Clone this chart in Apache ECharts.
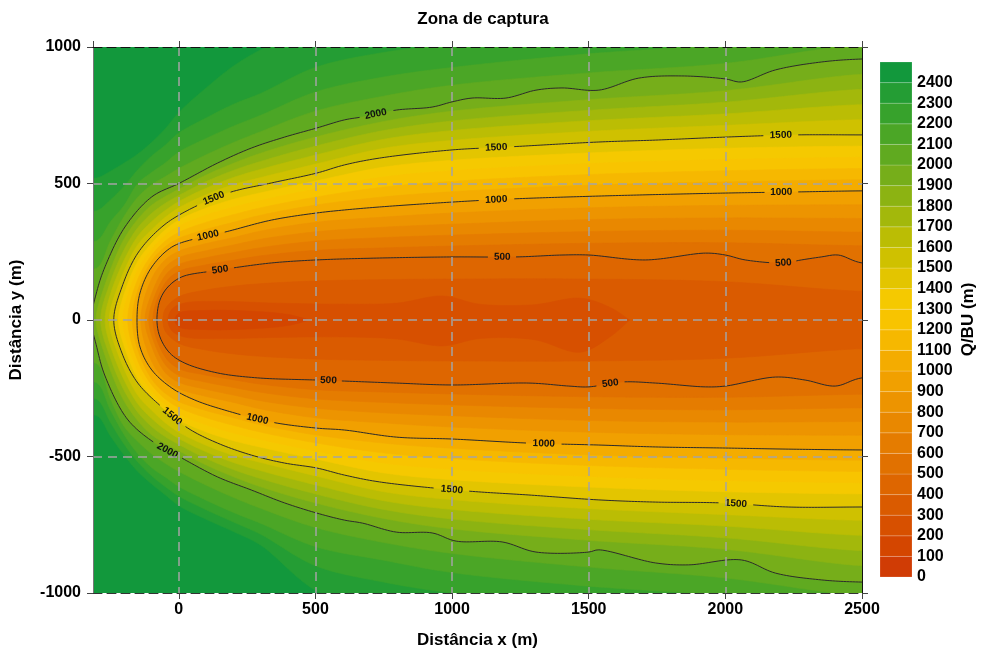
<!DOCTYPE html>
<html><head><meta charset="utf-8">
<script src="https://cdn.jsdelivr.net/npm/echarts@6.0.0/dist/echarts.min.js"></script>
<style>html,body{margin:0;padding:0;background:#fff}#c{width:982px;height:656px}</style>
</head><body><div id="c"></div>
<script>
const FONT = '"Liberation Sans", Arial, Helvetica, sans-serif';
const X_MIN = -314, X_MAX = 2500, Y_MIN = -1000, Y_MAX = 1000;

// ---- colour bar (band lower bounds, tick labels) ----
const cbLevels = [0,100,200,300,400,500,600,700,800,900,1000,1100,1200,1300,1400,1500,1600,1700,1800,1900,2000,2100,2200,2300,2400];
const bandColors = ['#d03c05','#d44600','#d75000','#da5b00','#de6600','#e17100','#e57c00','#e98800','#ed9400','#f1a000','#f4ac00','#f6b800','#f8c400','#f5c900','#e3c500','#cfc100','#bbbd04','#a3b80b','#8cb312','#76ae1a','#60aa20','#4ba626','#37a22c','#249d34','#12983c'];

// ---- filled field: upper-half contour y (m) at the x stations, per level ----
const XS = [-300,-250,-200,-150,-100,-50,0,100,200,300,500,750,1000,1500,2000,2500];
const fillLevels = [2400,2300,2200,2100,1900,1800,1700,1600,1400,1300,1200,1100,900,800,700,600,400];
const fillNoses  = [null,null,null,null,-302,-286,-270,-254,-221,-204,-187,-170,-139,-124,-110,-95,-58];
const up2400 = [520,545,575,608,650,700,760,850,930,990,1080,1120,1150,1200,1250,1300];
const lo2400 = [-350,-425,-495,-555,-600,-640,-680,-730,-775,-825,-990,-1080,-1150,-1200,-1250,-1300];
const up2300 = [400,440,490,550,600,640,685,740,790,830,925,980,1010,1060,1100,1150];
const lo2300 = [-290,-375,-455,-520,-570,-610,-645,-695,-740,-785,-900,-960,-1000,-1050,-1095,-1140];
const up2200 = [290,360,420,500,540,575,615,665,710,750,835,890,925,975,1010,1070];
const lo2200 = [-230,-330,-420,-490,-540,-575,-610,-660,-705,-745,-830,-880,-925,-975,-1010,-1070];
const up2100 = [190,290,380,450,495,525,555,605,650,690,765,820,860,905,940,1010];
const lo2100 = [-160,-290,-390,-445,-490,-525,-555,-605,-650,-690,-760,-815,-855,-905,-945,-1010];
const up1900 = [30,185,297,369,420,452,479,531,574,611,670,727,765,807,840,900];
const up1800 = [null,140,258,338,390,427,456,507,548,581,637,694,729,768,798,845];
const up1700 = [null,95,220,307,360,401,434,483,522,552,604,662,694,730,755,789];
const up1600 = [null,40,180,276,330,376,411,459,496,522,571,629,658,691,713,734];
const up1400 = [null,null,95,215,280,330,366,410,442,466,509,560,585,612,629,637];
const up1300 = [null,null,45,185,258,310,344,384,414,438,480,524,547,573,588,596];
const up1200 = [null,null,null,150,237,289,321,358,386,411,450,487,508,533,547,555];
const up1100 = [null,null,null,110,215,268,299,332,358,384,421,451,470,494,506,514];
const up900  = [null,null,null,null,150,220,252,280,302,326,358,377,392,411,420,422];
const up800  = [null,null,null,null,95,192,228,254,275,296,323,340,351,368,374,372];
const up700  = [null,null,null,null,55,163,203,228,247,265,289,302,311,324,329,322];
const up600  = [null,null,null,null,null,135,178,202,219,235,255,264,271,281,283,272];
const up400  = [null,null,null,null,null,40,85,110,124,133,143,148,150,150,140,105];

// ---- inner low zones near the centre line [x, y] ----
const c300U = [[-40,0],[-25,40],[20,62],[150,68],[350,62],[600,58],[800,62],[965,88],[1100,58],[1300,56],[1470,80],[1580,45],[1650,0]];
const c300L = [[-40,0],[-25,-40],[20,-62],[150,-68],[350,-64],[600,-62],[800,-70],[965,-95],[1100,-68],[1300,-72],[1470,-118],[1580,-60],[1650,0]];
const c200U = [[-15,0],[0,25],[100,35],[250,33],[400,20],[480,0]];
const c200L = [[-15,0],[0,-25],[100,-35],[250,-33],[400,-20],[480,0]];

// ---- labelled contour lines [x, y] ----
const c500U = [[-80,0],[-69,73],[-40,121],[11,158],[120,179],[193,190],[339,209],[504,220],[734,227],[1000,231],[1234,231],[1402,238],[1500,238],[1708,220],[1927,245],[2000,238],[2073,220],[2212,209],[2278,220],[2351,231],[2413,238],[2500,209]];
const c500L = [[-80,0],[-69,-62],[-33,-121],[22,-158],[142,-194],[288,-212],[507,-220],[588,-223],[796,-231],[1000,-238],[1281,-231],[1427,-242],[1500,-245],[1621,-227],[1745,-231],[1927,-245],[2000,-242],[2183,-209],[2292,-220],[2402,-242],[2500,-212]];
const c1000U = [[-153,0],[-142,99],[-99,194],[-26,267],[69,300],[168,322],[339,366],[504,392],[606,403],[734,414],[1000,432],[1208,443],[1537,454],[2000,465],[2256,469],[2500,473]];
const c1000L = [[-153,0],[-142,-99],[-99,-183],[-26,-249],[58,-293],[168,-330],[339,-374],[504,-396],[606,-403],[796,-429],[1000,-436],[1281,-451],[1537,-458],[1745,-465],[2000,-469],[2230,-473],[2500,-476]];
const c1500U = [[-238,0],[-208,121],[-150,245],[-62,341],[22,396],[179,465],[339,502],[504,538],[606,568],[734,593],[1000,623],[1208,634],[1537,652],[1745,659],[2000,670],[2256,678],[2500,678]];
const c1500L = [[-238,0],[-208,-121],[-150,-231],[-62,-319],[33,-396],[142,-451],[266,-495],[387,-524],[504,-542],[606,-568],[734,-593],[1051,-626],[1281,-641],[1537,-659],[1745,-667],[1986,-670],[2230,-685],[2500,-685]];
const c2000U = [[-320,0],[-300,105],[-270,195],[-197,341],[-99,451],[4,502],[142,575],[266,630],[387,670],[504,703],[606,733],[672,744],[796,769],[927,780],[1000,799],[1073,813],[1197,813],[1307,842],[1402,850],[1537,842],[1683,886],[1840,894],[2000,883],[2059,872],[2183,916],[2351,945],[2500,956]];
const c2000L = [[-320,0],[-300,-100],[-270,-205],[-186,-366],[-77,-458],[4,-502],[142,-575],[266,-623],[387,-670],[504,-707],[606,-733],[672,-744],[796,-777],[927,-780],[1015,-810],[1183,-813],[1307,-850],[1500,-850],[1537,-842],[1745,-890],[1865,-897],[2059,-879],[2183,-927],[2351,-952],[2500,-960]];
const lab500  = [[150,183],[1179,231],[2212,209],[544,-221],[1577,-235]];
const lab1000 = [[110,309],[1157,440],[2201,468],[285,-360],[1332,-452]];
const lab1500 = [[128,443],[1157,631],[2201,676],[-22,-352],[996,-621],[2040,-671]];
const lab2000 = [[719,752],[-44,-476]];

// ---------- build helpers ----------
const upRows = [up2400,up2300,up2200,up2100,up1900,up1800,up1700,up1600,up1400,up1300,up1200,up1100,up900,up800,up700,up600,up400];
const loRows = [lo2400,lo2300,lo2200,lo2100,null,null,null,null,null,null,null,null,null,null,null,null,null];
const X_EXT_R = 2800, X_EXT_L = -380;

function rowPts(row, nose){
  const pts = [];
  if (nose !== null) pts.push([nose, 0]); else pts.push([X_EXT_L, row[0]]);
  XS.forEach((x,i)=>{ if (row[i] !== null) pts.push([x,row[i]]); });
  return pts;
}
function openPath(U, L){
  const u = U.slice(), l = L.slice();
  if (u[u.length-1][1] !== 0) u.push([X_EXT_R, u[u.length-1][1]]);
  if (l[l.length-1][1] !== 0) l.push([X_EXT_R, l[l.length-1][1]]);
  const same = u[0][0] === l[0][0] && u[0][1] === l[0][1];
  return u.reverse().concat(same ? l.slice(1) : l);
}
function catmull(P){
  const n = P.length; if (n < 3) return P.slice();
  const get = i => {
    if (i < 0) return [2*P[0][0]-P[1][0], 2*P[0][1]-P[1][1]];
    if (i >= n) return [2*P[n-1][0]-P[n-2][0], 2*P[n-1][1]-P[n-2][1]];
    return P[i];
  };
  const dd = (a,b) => Math.max(Math.pow(Math.hypot(b[0]-a[0], b[1]-a[1]), 0.5), 1e-4);
  const out = [];
  for (let i = 0; i < n-1; i++){
    const p0=get(i-1), p1=P[i], p2=P[i+1], p3=get(i+2);
    const t0=0, t1=t0+dd(p0,p1), t2=t1+dd(p1,p2), t3=t2+dd(p2,p3);
    const segs = Math.max(1, Math.ceil(Math.hypot(p2[0]-p1[0], p2[1]-p1[1]) / 3));
    for (let s = 0; s < segs; s++){
      const t = t1 + (t2-t1)*s/segs;
      const lp = (a,b,ta,tb) => { const w=(t-ta)/(tb-ta); return [a[0]+(b[0]-a[0])*w, a[1]+(b[1]-a[1])*w]; };
      const A1=lp(p0,p1,t0,t1), A2=lp(p1,p2,t1,t2), A3=lp(p2,p3,t2,t3);
      const B1=lp(A1,A2,t0,t2), B2=lp(A2,A3,t1,t3);
      out.push(lp(B1,B2,t1,t2));
    }
  }
  out.push(P[n-1]);
  return out;
}

const shapes = [];
fillLevels.forEach((lv,i)=>{
  const U = rowPts(upRows[i], fillNoses[i]);
  const L = loRows[i] ? rowPts(loRows[i], fillNoses[i]) : U.map(p=>[p[0], -p[1]]);
  shapes.push({lv, U, L});
});
const lines = [
  {lv:500, U:c500U, L:c500L, labs:lab500},
  {lv:1000, U:c1000U, L:c1000L, labs:lab1000},
  {lv:1500, U:c1500U, L:c1500L, labs:lab1500},
  {lv:2000, U:c2000U, L:c2000L, labs:lab2000}
];
lines.forEach(c=>shapes.push({lv:c.lv, U:c.U, L:c.L}));
shapes.push({lv:300, U:c300U, L:c300L});
shapes.push({lv:200, U:c200U, L:c200L});
shapes.sort((a,b)=>b.lv-a.lv);

function renderField(params, api){
  const cs = params.coordSys;
  const toPx = pts => pts.map(p => api.coord(p));
  const children = [];
  shapes.forEach(s=>{
    const col = bandColors[s.lv/100 - 1];
    children.push({type:'polygon', shape:{points: catmull(toPx(openPath(s.U, s.L)))},
      style:{fill: col, stroke: col, lineWidth: 0.6}, silent:true});
  });
  lines.forEach(c=>{
    const pts = catmull(toPx(openPath(c.U, c.L)));
    const keep = pts.map(()=>true);
    const txt = String(c.lv);
    const half = txt.length*2.9 + 4;
    c.labs.forEach(lp=>{
      const q = api.coord(lp);
      let best=0, bd=1e9;
      pts.forEach((p,i)=>{ const d=Math.hypot(p[0]-q[0],p[1]-q[1]); if(d<bd){bd=d;best=i;} });
      const ctr = pts[best];
      let i0 = best, i1 = best;
      while (i0>0 && Math.hypot(pts[i0][0]-ctr[0],pts[i0][1]-ctr[1]) < half) i0--;
      while (i1<pts.length-1 && Math.hypot(pts[i1][0]-ctr[0],pts[i1][1]-ctr[1]) < half) i1++;
      let ang = Math.atan2(pts[i1][1]-pts[i0][1], pts[i1][0]-pts[i0][0]);
      if (ang > Math.PI/2) ang -= Math.PI;
      if (ang < -Math.PI/2) ang += Math.PI;
      for (let k=i0+1;k<i1;k++) keep[k]=false;
      children.push({type:'text', x:ctr[0], y:ctr[1], rotation:-ang, silent:true, z2:20,
        style:{text:txt, fill:'#111', font:'bold 10px ' + FONT, align:'center', verticalAlign:'middle'}});
    });
    let run = [];
    pts.forEach((p,i)=>{
      if (keep[i]) run.push(p);
      else { if (run.length>1) children.push({type:'polyline', shape:{points:run}, style:{stroke:'#2b2b2b', lineWidth:1, fill:null}, silent:true, z2:10}); run=[]; }
    });
    if (run.length>1) children.push({type:'polyline', shape:{points:run}, style:{stroke:'#2b2b2b', lineWidth:1, fill:null}, silent:true, z2:10});
  });
  return {type:'group', children,
    clipPath:{type:'rect', shape:{x:cs.x, y:cs.y, width:cs.width, height:cs.height}}};
}

function renderBar(params, api){
  const lo = api.value(1);
  const a = api.coord([0, lo]), b = api.coord([1, lo + 100]);
  const col = bandColors[api.value(0)];
  return {type:'rect', shape:{x:a[0], y:b[1], width:b[0]-a[0], height:a[1]-b[1]},
    style:{fill: col, stroke:'rgba(255,255,255,0.22)', lineWidth:0.8}, silent:true};
}

const plain = v => String(Math.round(v));
const lblStyle = {color:'#000', fontFamily:FONT, fontWeight:'bold', fontSize:16};
const nameStyle = {color:'#000', fontFamily:FONT, fontWeight:'bold', fontSize:17};
const gridLine = {show:true, showMinLine:false, showMaxLine:false, lineStyle:{color:'#a4a4a4', width:1.5, type:[9,6]}};

const chart = echarts.init(document.getElementById('c'), null, {renderer:'canvas'});
chart.setOption({
  animation:false,
  backgroundColor:'#fff',
  title:{text:'Zona de captura', left:478, top:6, textAlign:'center',
    textStyle:{color:'#000', fontFamily:FONT, fontWeight:'bold', fontSize:17}},
  grid:[
    {left:93, top:47, width:769, height:546, show:true, backgroundColor:bandColors[24], borderWidth:0},
    {left:880, top:62, width:32, height:515}
  ],
  xAxis:[
    {gridIndex:0, type:'value', min:X_MIN, max:X_MAX, splitNumber:5, position:'bottom', z:10,
     axisLine:{onZero:false, lineStyle:{color:'#333', width:1, type:[9,5]}},
     axisTick:{length:6, lineStyle:{color:'#444'}},
     axisLabel:{showMinLabel:false, margin:9, formatter:plain, ...lblStyle},
     splitLine:gridLine,
     name:'Distância x (m)', nameLocation:'middle', nameGap:39, nameTextStyle:nameStyle},
    {gridIndex:0, type:'value', min:X_MIN, max:X_MAX, splitNumber:5, position:'top', z:11,
     axisLine:{onZero:false, lineStyle:{color:'#111', width:1, type:[9,5]}},
     axisTick:{length:6, lineStyle:{color:'#444'}}, axisLabel:{show:false}, splitLine:{show:false}},
    {gridIndex:1, type:'value', min:0, max:1, show:false}
  ],
  yAxis:[
    {gridIndex:0, type:'value', min:Y_MIN, max:Y_MAX, interval:500, position:'left', z:10,
     axisLine:{onZero:false, lineStyle:{color:'#777', width:1}},
     axisTick:{length:6, lineStyle:{color:'#444'}},
     axisLabel:{margin:12, formatter:plain, ...lblStyle},
     splitLine:gridLine,
     name:'Distância y (m)', nameLocation:'middle', nameGap:68, nameRotate:90, nameTextStyle:nameStyle},
    {gridIndex:0, type:'value', min:Y_MIN, max:Y_MAX, interval:500, position:'right', z:11,
     axisLine:{onZero:false, lineStyle:{color:'#111', width:1}},
     axisTick:{length:6, lineStyle:{color:'#444'}}, axisLabel:{show:false}, splitLine:{show:false}},
    {gridIndex:1, type:'value', min:0, max:2500, interval:100, position:'right',
     axisLine:{show:false}, axisTick:{show:false}, splitLine:{show:false},
     axisLabel:{margin:5, formatter:v=> (v <= 2400 ? plain(v) : ''), ...lblStyle},
     name:'Q/BU (m)', nameLocation:'middle', nameGap:48, nameRotate:90, nameTextStyle:nameStyle}
  ],
  series:[
    {type:'custom', xAxisIndex:0, yAxisIndex:0, data:[[0,0]], renderItem:renderField, clip:true, silent:true, z:2},
    {type:'custom', xAxisIndex:2, yAxisIndex:2, data:cbLevels.map((v,i)=>[i,v]), renderItem:renderBar, silent:true, z:2}
  ]
});
</script></body></html>
